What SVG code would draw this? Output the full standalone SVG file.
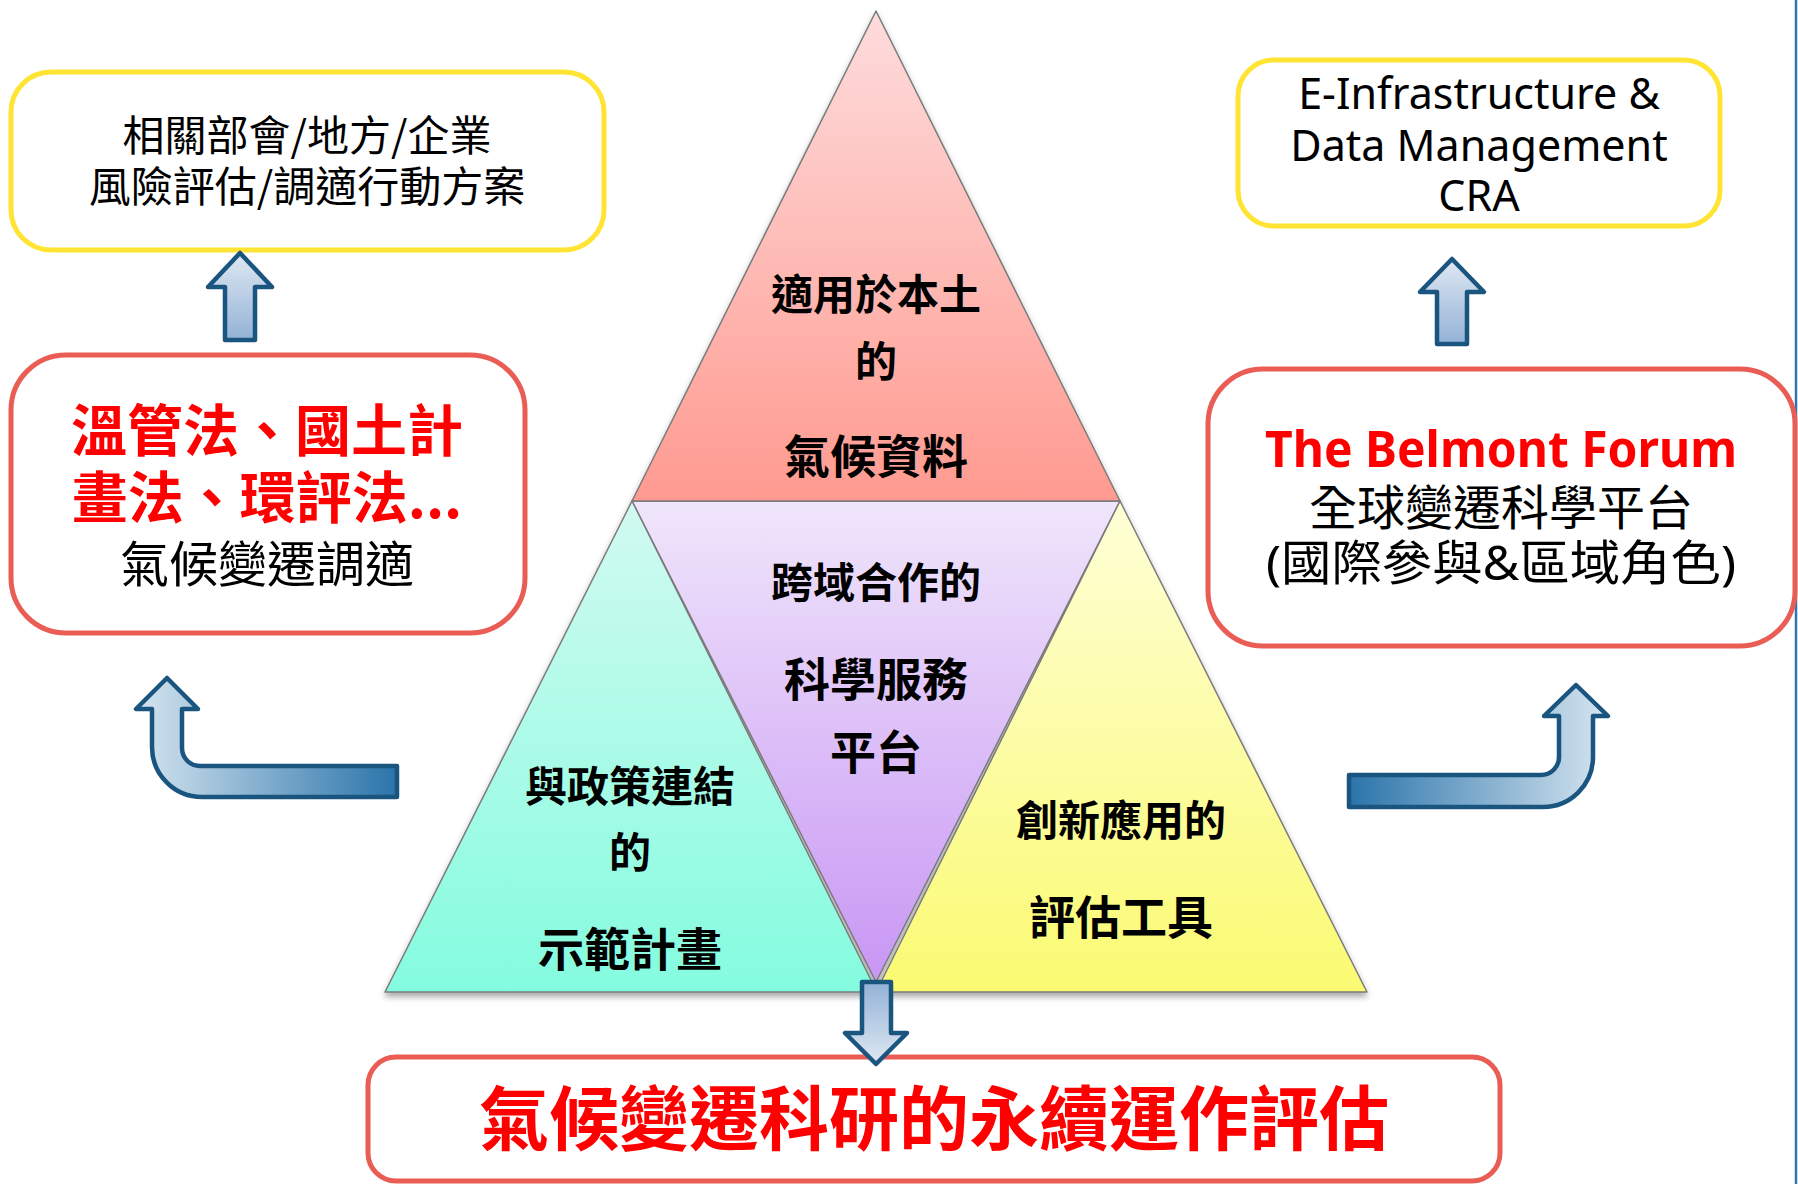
<svg xmlns="http://www.w3.org/2000/svg" width="1798" height="1184" viewBox="0 0 1798 1184">
<defs>
<style>
.cjk{font-family:"Noto Sans CJK TC","Noto Sans CJK SC",sans-serif;}
.lat{font-family:"Noto Sans","Open Sans","Noto Sans CJK TC",sans-serif;}
.b{font-weight:700;}
.blk{fill:#000;}
.red{fill:#ff0000;}
.ybox{fill:#fff;stroke:#ffe433;stroke-width:5;}
.rbox{fill:#fff;stroke:#e95d55;stroke-width:5;}
.tri{stroke:#7a7a7a;stroke-width:1.5;stroke-linejoin:round;}
.arr{stroke:#1a5580;stroke-width:4.5;stroke-linejoin:round;}
</style>
<linearGradient id="gPink" x1="0" y1="0" x2="0" y2="1"><stop offset="0" stop-color="#fddcdc"/><stop offset="1" stop-color="#ff9a90"/></linearGradient>
<linearGradient id="gPurple" x1="0" y1="0" x2="0" y2="1"><stop offset="0" stop-color="#f0e6fb"/><stop offset="1" stop-color="#c896f4"/></linearGradient>
<linearGradient id="gGreen" x1="0" y1="0" x2="0" y2="1"><stop offset="0" stop-color="#d2faf1"/><stop offset="1" stop-color="#84fcdf"/></linearGradient>
<linearGradient id="gYellow" x1="0" y1="0" x2="0" y2="1"><stop offset="0" stop-color="#ffffd8"/><stop offset="1" stop-color="#fafa72"/></linearGradient>
<linearGradient id="gUp" x1="0" y1="0" x2="0" y2="1"><stop offset="0" stop-color="#dfe8f3"/><stop offset="1" stop-color="#93b2d6"/></linearGradient>
<linearGradient id="gDown" x1="0" y1="0" x2="0" y2="1"><stop offset="0" stop-color="#93b2d6"/><stop offset="1" stop-color="#dfe8f3"/></linearGradient>
<linearGradient id="gBendL" gradientUnits="userSpaceOnUse" x1="136" y1="0" x2="397" y2="0"><stop offset="0" stop-color="#d6e5f0"/><stop offset="1" stop-color="#2a74aa"/></linearGradient>
<linearGradient id="gBendR" gradientUnits="userSpaceOnUse" x1="1349" y1="0" x2="1608" y2="0"><stop offset="0" stop-color="#2a74aa"/><stop offset="1" stop-color="#d6e5f0"/></linearGradient>
<filter id="shadow" x="-10%" y="-10%" width="120%" height="125%">
<feDropShadow dx="0" dy="4" stdDeviation="3" flood-color="#000" flood-opacity="0.35"/>
</filter>
</defs>

<line x1="1796" y1="0" x2="1796" y2="1184" stroke="#2e75b6" stroke-width="2.5"/>

<g id="pyramid" filter="url(#shadow)">
<polygon id="tri-purple" class="tri" fill="url(#gPurple)" points="632,501 1120,501 876,982"/>
<polygon id="tri-green" class="tri" fill="url(#gGreen)" points="632,501 385,992 877,992"/>
<polygon id="tri-yellow" class="tri" fill="url(#gYellow)" points="1120,501 876,992 1367,992"/>
<polygon id="tri-pink" class="tri" fill="url(#gPink)" points="876,11 632,501 1120,501"/>
</g>

<g id="node-climate-data">
<text class="cjk b blk" x="876" y="310" font-size="42" text-anchor="middle">適用於本土</text>
<text class="cjk b blk" x="876" y="377" font-size="42" text-anchor="middle">的</text>
<text class="cjk b blk" x="876" y="473" font-size="46" text-anchor="middle">氣候資料</text>
</g>
<g id="node-platform">
<text class="cjk b blk" x="876" y="598" font-size="42" text-anchor="middle">跨域合作的</text>
<text class="cjk b blk" x="876" y="696" font-size="46" text-anchor="middle">科學服務</text>
<text class="cjk b blk" x="876" y="769" font-size="46" text-anchor="middle">平台</text>
</g>
<g id="node-demo">
<text class="cjk b blk" x="630" y="802" font-size="42" text-anchor="middle">與政策連結</text>
<text class="cjk b blk" x="630" y="868" font-size="42" text-anchor="middle">的</text>
<text class="cjk b blk" x="630" y="966" font-size="46" text-anchor="middle">示範計畫</text>
</g>
<g id="node-tools">
<text class="cjk b blk" x="1121" y="836" font-size="42" text-anchor="middle">創新應用的</text>
<text class="cjk b blk" x="1121" y="934" font-size="46" text-anchor="middle">評估工具</text>
</g>

<g id="node-ministries">
<rect class="ybox" x="11" y="72" width="593" height="178" rx="40"/>
<text class="cjk blk" x="307" y="151" font-size="42" text-anchor="middle">相關部會/地方/企業</text>
<text class="cjk blk" x="307" y="202" font-size="42" text-anchor="middle">風險評估/調適行動方案</text>
</g>

<g id="node-laws">
<rect class="rbox" x="11" y="355" width="514" height="278" rx="55"/>
<text class="cjk b red" x="267" y="451" font-size="56" text-anchor="middle">溫管法、國土計</text>
<text class="cjk b red" x="267" y="518" font-size="56" text-anchor="middle">畫法、環評法...</text>
<text class="cjk blk" x="267" y="582" font-size="49" text-anchor="middle">氣候變遷調適</text>
</g>

<g id="node-einfra">
<rect class="ybox" x="1238" y="60" width="482" height="166" rx="36"/>
<text class="lat blk" x="1479" y="109" font-size="43" text-anchor="middle">E-Infrastructure &amp;</text>
<text class="lat blk" x="1479" y="161" font-size="43" text-anchor="middle">Data Management</text>
<text class="lat blk" x="1479" y="211" font-size="43" text-anchor="middle">CRA</text>
</g>

<g id="node-belmont">
<rect class="rbox" x="1208" y="369" width="587" height="277" rx="55"/>
<text class="lat b red" x="1501" y="467" font-size="50" text-anchor="middle" textLength="472" lengthAdjust="spacingAndGlyphs">The Belmont Forum</text>
<text class="cjk blk" x="1501" y="525" font-size="48" text-anchor="middle">全球變遷科學平台</text>
<text class="lat blk" x="1501" y="580" font-size="48" text-anchor="middle" textLength="470" lengthAdjust="spacingAndGlyphs">(國際參與&amp;區域角色)</text>
</g>

<g id="node-sustain">
<rect class="rbox" x="368" y="1057" width="1132" height="124" rx="28"/>
<text class="cjk b red" x="934" y="1145" font-size="70" text-anchor="middle">氣候變遷科研的永續運作評估</text>
</g>

<g id="connectors">
<path class="arr" fill="url(#gUp)" d="M225,340 L225,287 L208,287 L240,253 L272,287 L255,287 L255,340 Z"/>
<path class="arr" fill="url(#gUp)" d="M1437,344 L1437,292 L1420,292 L1452,259 L1484,292 L1467,292 L1467,344 Z"/>
<path class="arr" fill="url(#gBendL)" d="M397,766 L200,766 A18,18 0 0 1 182,748 L182,709 L198,709 L167,678 L136,709 L152,709 L152,747 A50,50 0 0 0 202,797 L397,797 Z"/>
<path class="arr" fill="url(#gBendR)" d="M1349,775 L1541,775 A18,18 0 0 0 1559,757 L1559,716 L1544,716 L1576,685 L1608,716 L1593,716 L1593,757 A50,50 0 0 1 1543,807 L1349,807 Z"/>
<path class="arr" fill="url(#gDown)" d="M862,982 L891,982 L891,1033 L907,1033 L876,1064 L845,1033 L862,1033 Z"/>
</g>
</svg>
